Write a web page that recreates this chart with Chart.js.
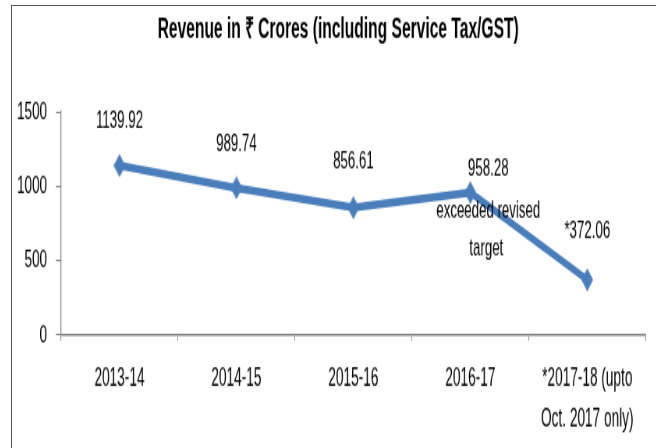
<!DOCTYPE html>
<html>
<head>
<meta charset="utf-8">
<script src="https://cdn.jsdelivr.net/npm/chart.js@4.4.0/dist/chart.umd.min.js"></script>
<style>
  body { margin: 0; overflow: hidden; background: #fff; }
  #frame {
    position: absolute; left: 11px; top: 5px; width: 700px; height: 500px;
    border-left: 1px solid #555; border-top: 1px solid #555;
  }
  /* the reference text is narrow and tall, so squeeze the canvas */
  #revenue {
    position: absolute; left: 12px; top: 6px;
    transform: scale(0.78, 1.45); transform-origin: 0 0;
  }
</style>
</head>
<body>
<div id="frame"></div>
<canvas id="revenue" width="826" height="305"></canvas>
<script>
// values
const years = ['2013-14', '2014-15', '2015-16', '2016-17', ['*2017-18 (upto', 'Oct. 2017 only)']];
const revenue = [1139.92, 989.74, 856.61, 958.28, 372.06];
const yTicks = [0, 500, 1000, 1500];
const partialYear = 4;
const noteYear = 3;
const noteLines = ['exceeded revised', 'target'];

const FONT = "'Liberation Sans', Arial, sans-serif";
const BLUE = '#4a7ebb';
const AXIS = '#868686';

// diamond marker
function makeDiamond() {
    let c = document.createElement('canvas');
    c.width = 15;
    c.height = 16;
    let g = c.getContext('2d');
    g.fillStyle = BLUE;
    g.beginPath();
    g.moveTo(7.5, 0);
    g.lineTo(15, 8);
    g.lineTo(7.5, 16);
    g.lineTo(0, 8);
    g.closePath();
    g.fill();
    return c;
}

// label offsets from each point (canvas px)
const labelShift = [[0, -30.3], [0, -30], [0, -31.7], [23, -16.6], [0, -33]];
const noteShift = [[23, 12.4], [20.5, 38.6]];

const valueLabels = {
    id: 'valueLabels',
    afterDatasetsDraw(chart) {
        let ctx = chart.ctx;
        let meta = chart.getDatasetMeta(0);
        ctx.save();
        ctx.fillStyle = '#000';
        ctx.font = '17px ' + FONT;
        ctx.textAlign = 'center';
        ctx.textBaseline = 'middle';
        meta.data.forEach((pt, i) => {
            let txt = (i === partialYear ? '*' : '') + revenue[i].toFixed(2);
            ctx.fillText(txt, pt.x + labelShift[i][0], pt.y + labelShift[i][1]);
        });
        let p = meta.data[noteYear];
        noteLines.forEach((line, j) => {
            ctx.fillText(line, p.x + noteShift[j][0], p.y + noteShift[j][1]);
        });
        ctx.restore();
    }
};

let ctx = document.getElementById('revenue').getContext('2d');
new Chart(ctx, {
    type: 'line',
    data: {
        labels: years,
        datasets: [{
            label: 'Revenue',
            data: revenue,
            borderColor: BLUE,
            backgroundColor: BLUE,
            borderWidth: 5.5,
            tension: 0,
            pointStyle: makeDiamond(),
            pointRadius: 8
        }]
    },
    options: {
        responsive: false,
        animation: false,
        devicePixelRatio: 1,
        layout: { padding: { left: 0, right: 12, top: 0, bottom: 0 } },
        plugins: {
            legend: { display: false },
            tooltip: { enabled: false },
            title: {
                display: true,
                // leading spaces nudge the centred title a little to the right
                text: '    Revenue in \u20B9 Crores (including Service Tax/GST)',
                color: '#000',
                font: { family: FONT, size: 20, weight: 'bold', lineHeight: 1.2 },
                padding: { top: 4.9, bottom: 44.2 }
            }
        },
        scales: {
            x: {
                offset: true,
                grid: { display: true, drawOnChartArea: false, offset: true, tickLength: 4, color: AXIS },
                border: { display: true, color: AXIS, width: 1.5 },
                ticks: {
                    color: '#000',
                    padding: 12,
                    maxRotation: 0,
                    autoSkip: false,
                    font: { family: FONT, size: 17.5, lineHeight: 1.62 }
                },
                afterFit: (scale) => { scale.height = 78.1; }
            },
            y: {
                min: 0,
                max: 1500,
                afterBuildTicks: (scale) => { scale.ticks = yTicks.map(v => ({ value: v })); },
                grid: { display: true, drawOnChartArea: false, tickLength: 6.4, color: AXIS },
                border: { display: true, color: AXIS, width: 1.3 },
                ticks: {
                    color: '#000',
                    padding: 11.5,
                    font: { family: FONT, size: 17.3 },
                    callback: (v) => String(v)
                },
                afterFit: (scale) => { scale.width = 62.8; }
            }
        }
    },
    plugins: [valueLabels]
});
</script>
</body>
</html>
